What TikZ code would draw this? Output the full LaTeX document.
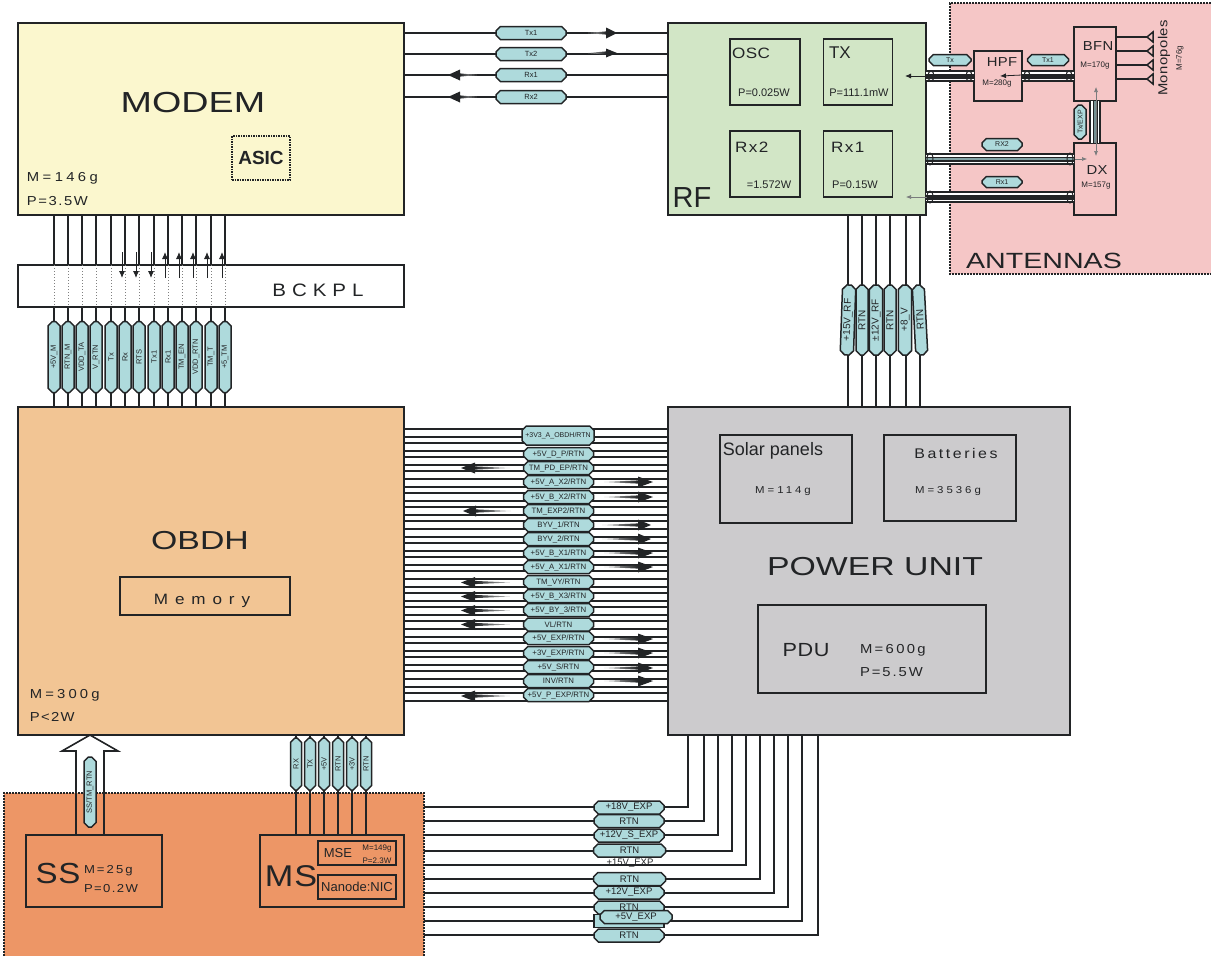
\documentclass[tikz,border=0pt]{standalone}
\usepackage{fontspec}
\setmainfont{Liberation Sans}[FakeStretch=1.14,LetterSpace=3]
\newfontfamily\nf{Liberation Sans}
\newfontfamily\wf[FakeStretch=1.3]{Liberation Sans}
\usetikzlibrary{arrows.meta,shapes.misc,calc}
\newcommand{\sz}[1]{\fontsize{#1}{#1}\selectfont}
\newcommand{\ws}[1]{\addfontfeature{LetterSpace=#1}}
\newcommand{\Rt}{/RTN}
\definecolor{ink}{HTML}{222426}
\definecolor{tagc}{HTML}{AEDADC}
\definecolor{modemc}{HTML}{FBF7CE}
\definecolor{rfc}{HTML}{D2E6C6}
\definecolor{antc}{HTML}{F5C6C6}
\definecolor{obdhc}{HTML}{F2C594}
\definecolor{puc}{HTML}{CCCBCD}
\definecolor{payc}{HTML}{ED9666}
\tikzset{
  box/.style={draw=ink,line width=1.6,inner sep=0,outer sep=0},
  area/.style={inner sep=0,outer sep=0},
  frame/.style={draw=ink,line width=1.5,dash pattern=on 2pt off 1pt},
  wire/.style={draw=ink,line width=1.6},
  lbl/.style={inner sep=0,outer sep=0,text=ink},
  tag/.style={chamfered rectangle,chamfered rectangle xsep=2.2pt,chamfered rectangle ysep=2.2pt,
    draw=ink,line width=1.5,fill=tagc,inner sep=0,outer sep=0,text=ink,font=\nf\sz{7.8},
    minimum width=70,minimum height=13},
  vtag/.style={tag,rotate=90,minimum width=71,minimum height=12,font=\nf\sz{7.5}},
  ptag/.style={tag,rotate=90,minimum width=70,minimum height=12,font=\nf\sz{10}},
  mini/.style={-{Latex[length=7,width=6]},draw=ink,line width=.9},
}
\newcommand{\rarr}[5]{%
  \shade[left color=ink!30,right color=ink] ({#1-#3-#5},#2) -- ({#1-#3},{#2-1.6}) -- ({#1-#3},{#2+1.6}) -- cycle;
  \fill[ink] (#1,#2) -- ({#1-#3},{#2-#4}) -- ({#1-#3},{#2+#4}) -- cycle;}
\newcommand{\larr}[5]{%
  \shade[right color=ink!30,left color=ink] ({#1+#3+#5},#2) -- ({#1+#3},{#2-1.6}) -- ({#1+#3},{#2+1.6}) -- cycle;
  \fill[ink] (#1,#2) -- ({#1+#3},{#2-#4}) -- ({#1+#3},{#2+#4}) -- cycle;}
\newcommand{\tubeline}[3]{%
  \draw[ink,line width=12] (#1) -- (#2);
  \draw[white,line width=8.5] (#1) -- (#2);
  \draw[ink,line width=5] (#1) -- (#2);
  \draw[#3,line width=2.5] (#1) -- (#2);}
\begin{document}
\begin{tikzpicture}[x=1pt,y=-1pt,line join=miter]
\useasboundingbox (0,0) rectangle (1211,956);
% background areas
\node[area,fill=antc,minimum width=261,minimum height=271] (ant) at (1080.5,138.5) {};
\node[area,fill=payc,minimum width=420,minimum height=163] (pay) at (214,874.5) {};
\draw[frame] (1211,3) -- (950,3) -- (950,274) -- (1211,274);
\draw[frame] (4,956) -- (4,793) -- (424,793) -- (424,956);
% main boxes
\node[box,fill=modemc,minimum width=386,minimum height=192] (modem) at (211,119) {};
\node[box,fill=rfc,minimum width=258,minimum height=192] (rf) at (797,119) {};
\node[box,fill=obdhc,minimum width=386,minimum height=328] (obdh) at (211,571) {};
\node[box,fill=puc,minimum width=402,minimum height=328] (pu) at (869,571) {};
% modem-obdh wires
\foreach \x in {54,68,82,96,111,125,139,154,168,182,196,211,225}
  \draw[wire] (\x,0 |- modem.south) -- (\x,0 |- obdh.north);
\node[box,fill=white,minimum width=386,minimum height=42] (bck) at (211,286) {};
\foreach \x in {54,68,82,96,111,125,139,154,168,182,196,211,225}
  \draw[draw=gray,line width=1,dotted] (\x,0 |- bck.north) -- (\x,0 |- bck.south);
\draw[mini] (122,252) -- (122,278);
\draw[mini] (136,252) -- (136,278);
\draw[mini] (151,252) -- (151,278);
\draw[mini] (165,278) -- (165,252);
\draw[mini] (179,278) -- (179,252);
\draw[mini] (193,278) -- (193,252);
\draw[mini] (207,278) -- (207,252);
\draw[mini] (222,278) -- (222,252);
\foreach \i/\x/\t in {1/54/+5V\_M,2/68/RTN\_M,3/82/VDD\_TA,4/96/V\_RTN,5/111/Tx,6/125/Rx,7/139/RTS,8/154/Tx1,9/168/Rx1,10/182/TM\_EN,11/196/VDD\_RTN,12/211/TM\_T,13/225/+5\_TM}
  \node[vtag] (mt\i) at (\x,357) {\t};
% modem-rf
\foreach \i/\y/\t in {1/33/Tx1,2/54/Tx2,3/75/Rx1,4/97/Rx2} {
  \draw[wire] (modem.east |- 0,\y) -- (rf.west |- 0,\y);
  \node[tag,font=\nf\sz{7.5}] (rt\i) at (531,\y) {\t};
}
\rarr{617}{33}{11}{5.5}{18}
\rarr{617}{53}{11}{4.5}{18}
\larr{448}{75}{12}{5.5}{17}
\larr{448}{97}{12}{5.5}{17}
% rf-pu
\foreach \x in {848,862,876,890,906,920}
  \draw[wire] (\x,0 |- rf.south) -- (\x,0 |- pu.north);
\node[ptag,rotate=-2] (pt1) at (848,320) {+15V\_RF};
\node[ptag] (pt2) at (862,320) {RTN};
\node[ptag] (pt3) at (876,320) {±12V\_RF};
\node[ptag] (pt4) at (890,320) {RTN};
\node[ptag] (pt5) at (905,320) {+8\_V};
\node[ptag,rotate=3] (pt6) at (920,320) {RTN};
% bus obdh-pu
\foreach \y in {429,437,443,451,457,465,471,479,487,493,501,507,515,521,529,537,543,551,557,565,571,579,587,593,601,607,615,621,629,637,643,651,657,665,671,679,687,693,701}
  \draw[wire] (obdh.east |- 0,\y) -- (pu.west |- 0,\y);
\node[tag,minimum width=72,minimum height=19,font=\nf\sz{7}] (b1) at (558,435.5) {+3V3\_A\_OBDH\Rt};
\foreach \i/\y/\t in {
 2/454/+5V\_D\_P\Rt,3/468/TM\_PD\_EP\Rt,4/482/+5V\_A\_X2\Rt,5/497/+5V\_B\_X2\Rt,
 6/511/TM\_EXP2\Rt,7/525/BYV\_1\Rt,8/539/BYV\_2\Rt,9/553/+5V\_B\_X1\Rt,
 10/567/+5V\_A\_X1\Rt,11/582/TM\_VY\Rt,12/596/+5V\_B\_X3\Rt,13/610/+5V\_BY\_3\Rt,
 14/624.5/VL\Rt,15/638/+5V\_EXP\Rt,16/653/+3V\_EXP\Rt,17/667/+5V\_S\Rt,
 18/681/INV\Rt,19/695/+5V\_P\_EXP\Rt}
  \node[tag,minimum height=13] (b\i) at (558.5,\y) {\t};
\larr{461}{468}{14}{5.5}{35}
\rarr{653}{482}{15}{5.5}{34}
\rarr{653}{497}{15}{5.5}{34}
\larr{463}{511}{13}{5.5}{35}
\rarr{651}{525}{13}{5.5}{36}
\rarr{651}{539}{13}{5.5}{36}
\rarr{653}{553}{15}{5.5}{34}
\rarr{653}{567}{15}{5.5}{34}
\larr{461}{582.5}{14}{5.5}{35}
\larr{461}{596.5}{14}{5.5}{35}
\larr{461}{610.5}{14}{5.5}{35}
\larr{461}{624.5}{14}{5.5}{35}
\rarr{653}{639}{15}{5.5}{34}
\rarr{653}{653}{15}{5.5}{34}
\rarr{653}{668}{15}{5.5}{34}
\rarr{653}{681}{15}{5.5}{34}
\larr{461}{696}{14}{5.5}{35}
% pu-payload
\foreach \x/\y in {688/807,704/821,718/835,732/851,746/865,760/879,774/893,788/907,802/921,818/935}
  \draw[wire] (pay.east |- 0,\y) -| (\x,0 |- pu.south);
\node[tag] (e1) at (629,807.5) {\nf\sz{9.5}+18V\_EXP};
\node[tag] (e2) at (629,821) {\nf\sz{9.5}RTN};
\node[tag] (e3) at (629,835.5) {\nf\sz{9.5}+12V\_S\_EXP};
\node[tag,minimum width=72] (e4) at (629.5,850.5) {\nf\sz{9.5}RTN};
\node[lbl] (e5) at (630,863.5) {\nf\sz{9.5}+15V\_EXP};
\node[tag,minimum width=72] (e6) at (629.5,879) {\nf\sz{9.5}RTN};
\node[tag] (e7) at (629,892.5) {\nf\sz{9.5}+12V\_EXP};
\node[tag] (e8) at (629,907.5) {\nf\sz{9.5}RTN};
\node[tag] (e9b) at (629,921) {};
\node[tag,minimum width=72] (e9) at (636,917) {\nf\sz{9.5}+5V\_EXP};
\node[tag] (e10) at (629,935.5) {\nf\sz{9.5}RTN};
% inner boxes RF
\node[box,minimum width=70,minimum height=66] (osc) at (765,72) {};
\node[box,minimum width=69,minimum height=66] (tx) at (858,72) {};
\node[box,minimum width=70,minimum height=66] (rx2) at (765,164) {};
\node[box,minimum width=69,minimum height=66] (rx1) at (858,164) {};
% antennas
\node[box,minimum width=48,minimum height=50] (hpf) at (998,76) {};
\node[box,minimum width=42,minimum height=74] (bfn) at (1095,64) {};
\node[box,minimum width=42,minimum height=72] (dx) at (1095,179) {};
\tubeline{rf.east |- 0,76}{hpf.west |- 0,76}{ink}
\tubeline{hpf.east |- 0,76}{bfn.west |- 0,76}{ink}
\tubeline{rf.east |- 0,159}{dx.west |- 0,159}{tagc!70!ink}
\tubeline{rf.east |- 0,197}{dx.west |- 0,197}{ink}
\tubeline{1095,0 |- bfn.south}{1095,0 |- dx.north}{tagc!60!ink}
\foreach \e in {931,969,1027,1069} \draw[ink,line width=1] (\e,76) ellipse (3 and 5);
\foreach \e in {930,1070} {\draw[ink,line width=1] (\e,159) ellipse (3 and 6); \draw[ink,line width=1] (\e,197) ellipse (3 and 6);}
\node[tag,minimum width=42,minimum height=11,font=\nf\sz{7}] (at1) at (950,60) {Tx};
\node[tag,minimum width=41,minimum height=11,font=\nf\sz{7}] (at2) at (1048,60) {Tx1};
\node[tag,rotate=90,minimum width=34,minimum height=12,font=\nf\sz{7}] (at3) at (1080,122) {Tx/EXP};
\node[tag,minimum width=40,minimum height=12,font=\nf\sz{7}] (at4) at (1002,144.5) {RX2};
\node[tag,minimum width=40,minimum height=11,font=\nf\sz{7}] (at5) at (1002,182) {Rx1};
\draw[mini,line width=.8,-{Latex[length=6,width=5]}] (927,76) -- (905,76);
\draw[mini,line width=.8,-{Latex[length=6,width=5]}] (1022,75) -- (1000,76);
\draw[mini,line width=.6,draw=ink!60,-{Latex[length=5,width=4]}] (1075,159) -- (1087,159);
\draw[mini,line width=.6,draw=ink!60,-{Latex[length=5,width=4]}] (927,197) -- (906,197);
\draw[mini,line width=.6,draw=ink!60,{Latex[length=5,width=4]}-{Latex[length=5,width=4]}] (1096,87) -- (1096,156);
\foreach \i/\y in {1/37,2/51,3/65,4/79} {
  \coordinate (mo\i) at (1147,\y);
  \draw[wire] (bfn.east |- mo\i) -- (mo\i);
  \draw[ink,line width=1.5] (mo\i) -- ++(6,-5) -- ++(0,10) -- cycle;
}
% other boxes
\node[box,dash pattern=on 1.5pt off 1pt,minimum width=58,minimum height=44] (asic) at (261,158) {};
\node[box,minimum width=170,minimum height=38] (mem) at (205,596) {};
\node[box,minimum width=132,minimum height=88] (solar) at (786,479) {};
\node[box,minimum width=132,minimum height=86] (batt) at (950,478) {};
\node[box,minimum width=228,minimum height=88] (pdu) at (872,649) {};
% sensors
\node[box,minimum width=136,minimum height=72] (ss) at (94,871) {};
\node[box,minimum width=144,minimum height=72] (ms) at (332,871) {};
\node[box,minimum width=78,minimum height=24] (mse) at (357,853) {};
\node[box,minimum width=78,minimum height=24] (nano) at (357,887) {};
\coordinate (aL) at (76,0 |- ss.north);
\coordinate (aR) at (104,0 |- ss.north);
\draw[wire] (aL) -- (76,751) -- (62,751) -- (90,0 |- obdh.south) -- (118,751) -- (104,751) -- (aR);
\node[tag,rotate=90,minimum width=70,minimum height=12,font=\nf\sz{7.5}] (sst) at (90,792) {SS/TM\_RTN};
\foreach \i/\x/\t in {1/296/RX,2/310/TX,3/324/+5V,4/338/RTN,5/352/+3V,6/366/RTN} {
  \draw[wire] (\x,0 |- obdh.south) -- (\x,0 |- ms.north);
  \node[tag,rotate=90,minimum width=52,minimum height=11,font=\nf\sz{7.5}] (st\i) at (\x,764) {\t};
}
% labels
\node[lbl] (l1) at (193,103) {\wf\sz{29}MODEM};
\node[lbl] (l2) at (261,158) {\nf\sz{19}\bfseries ASIC};
\node[lbl,anchor=west] (l3) at (27,178) {\sz{13}\ws{26}M=146g};
\node[lbl,anchor=west] (l4) at (27,201) {\sz{13}\ws{12}P=3.5W};
\node[lbl] (l5) at (318,290) {\sz{18}\ws{33}BCKPL};
\node[lbl] (l6) at (200,541) {\wf\sz{26}OBDH};
\node[lbl] (l7) at (202,601) {\sz{15}\ws{46}Memory};
\node[lbl,anchor=west] (l8) at (30,695) {\sz{13}\ws{24}M=300g};
\node[lbl,anchor=west] (l9) at (30,717) {\sz{13}\ws{10}P<2W};
\node[lbl] (l10) at (773,451) {\nf\sz{18}Solar panels};
\node[lbl] (l11) at (783,491) {\sz{10}\ws{30}M=114g};
\node[lbl] (l12) at (956,453) {\sz{14}\ws{18}Batteries};
\node[lbl] (l13) at (948,491) {\sz{10}\ws{30}M=3536g};
\node[lbl] (l14) at (875,567) {\wf\sz{26}POWER UNIT};
\node[lbl] (l15) at (806,650) {\sz{19}PDU};
\node[lbl,anchor=west] (l16) at (860,650) {\sz{13}\ws{18}M=600g};
\node[lbl,anchor=west] (l17) at (860,672) {\sz{13}\ws{15}P=5.5W};
\node[lbl] (l18) at (58,874) {\sz{29}SS};
\node[lbl,anchor=west] (l19) at (84,871) {\sz{11.5}\ws{18}M=25g};
\node[lbl,anchor=west] (l20) at (84,889) {\sz{11.5}\ws{12}P=0.2W};
\node[lbl] (l21) at (291,876) {\sz{30}MS};
\node[lbl] (l22) at (338,853) {\nf\sz{13}MSE};
\node[lbl] (l23) at (377,849) {\nf\sz{8}M=149g};
\node[lbl] (l24) at (377,861) {\nf\sz{8}P=2.3W};
\node[lbl] (l25) at (357,887) {\nf\sz{13}Nanode:NIC};
\node[lbl,anchor=west] (l26) at (732,53) {\sz{15}OSC};
\node[lbl] (l27) at (764,93) {\nf\sz{11}P=0.025W};
\node[lbl,anchor=west] (l28) at (829,53) {\nf\sz{17}TX};
\node[lbl] (l29) at (859,93) {\nf\sz{11}P=111.1mW};
\node[lbl,anchor=west] (l30) at (735,147) {\sz{15}\ws{10}Rx2};
\node[lbl] (l31) at (769,185) {\nf\sz{11}=1.572W};
\node[lbl,anchor=west] (l32) at (831,147) {\sz{15}\ws{10}Rx1};
\node[lbl] (l33) at (855,185) {\nf\sz{11}P=0.15W};
\node[lbl] (l34) at (692,198) {\nf\sz{29}RF};
\node[lbl] (l35) at (1002,62) {\sz{13}HPF};
\node[lbl] (l36) at (997,84) {\nf\sz{8}M=280g};
\node[lbl] (l37) at (1098,46) {\sz{13}BFN};
\node[lbl] (l38) at (1095,66) {\nf\sz{8}M=170g};
\node[lbl] (l39) at (1097,170) {\sz{13}DX};
\node[lbl] (l40) at (1096,186) {\nf\sz{8}M=157g};
\node[lbl] (l41) at (1044,261) {\wf\sz{22}ANTENNAS};
\node[lbl,rotate=90] (l42) at (1164,58) {\sz{13}Monopoles};
\node[lbl,rotate=90] (l43) at (1180,58) {\nf\sz{8}M=76g};
\end{tikzpicture}
\end{document}
